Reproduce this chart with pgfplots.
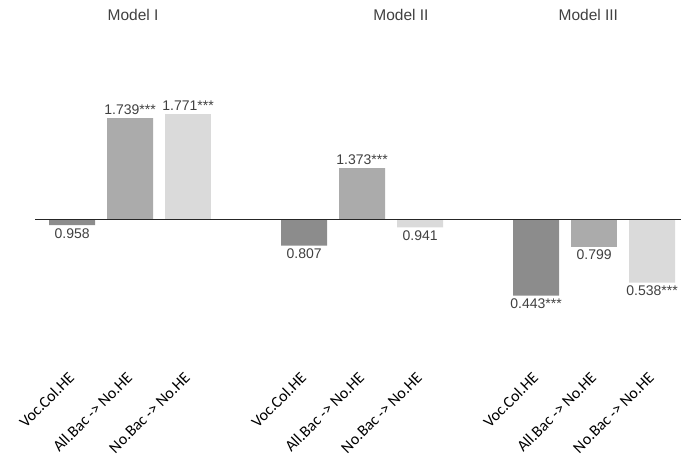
\documentclass[border=0pt]{standalone}
\usepackage{pgfplots}
\pgfplotsset{compat=1.18}
\usepackage{fontspec}
\setmainfont{Liberation Sans}
\newfontfamily\calibri{Carlito}
\definecolor{cdark}{HTML}{8C8C8C}
\definecolor{cmed}{HTML}{ABABAB}
\definecolor{clight}{HTML}{DADADA}
\definecolor{ctext}{HTML}{404040}
\begin{document}
\begin{tikzpicture}[x=1pt,y=1pt]
\begin{axis}[
  at={(35pt,94pt)}, anchor=south west,
  scale only axis,
  x=58pt, y=137pt,
  xmin=-0.64, xmax=10.5,
  ymin=-1.10, ymax=1.55,
  axis line style={draw=none},
  tick style={draw=none},
  ytick=\empty,
  xtick={0,1,2,4,5,6,8,9,10},
  xticklabels={Voc.Col.HE, All.Bac -> No.HE, No.Bac -> No.HE,
               Voc.Col.HE, All.Bac -> No.HE, No.Bac -> No.HE,
               Voc.Col.HE, All.Bac -> No.HE, No.Bac -> No.HE},
  xticklabel style={rotate=45, anchor=east, font=\calibri\fontsize{16}{18}\selectfont, text=black, inner sep=1pt},
  clip=false,
  ybar, bar width=46pt, bar shift=0pt,
  nodes near coords,
  point meta=explicit symbolic,
  nodes near coords style={font=\fontsize{14}{16}\selectfont, text=ctext, inner sep=3pt},
  pos/.style={nodes near coords style={anchor=south}},
  neg/.style={nodes near coords style={anchor=north}},
]
% Voc.Col.HE (all below 1)
\addplot[fill=cdark, draw=none, neg] table[x=x, y expr=\thisrow{v}-1, meta=lab] {
x v lab
0 0.958 0.958
4 0.807 0.807
8 0.443 0.443***
};
% All.Bac -> No.HE
\addplot[fill=cmed, draw=none, pos] table[x=x, y expr=\thisrow{v}-1, meta=lab] {
x v lab
1 1.739 1.739***
5 1.373 1.373***
};
\addplot[fill=cmed, draw=none, neg] table[x=x, y expr=\thisrow{v}-1, meta=lab] {
x v lab
9 0.799 0.799
};
% No.Bac -> No.HE
\addplot[fill=clight, draw=none, pos] table[x=x, y expr=\thisrow{v}-1, meta=lab] {
x v lab
2 1.771 1.771***
};
\addplot[fill=clight, draw=none, neg] table[x=x, y expr=\thisrow{v}-1, meta=lab] {
x v lab
6 0.941 0.941
10 0.538 0.538***
};
\draw[line width=1.5pt, color=black!85] (axis cs:-0.64,0) -- (axis cs:10.5,0);
\node[font=\fontsize{15.5}{17}\selectfont, text=ctext] at (axis cs:1.05,1.49) {Model I};
\node[font=\fontsize{15.5}{17}\selectfont, text=ctext] at (axis cs:5.67,1.49) {Model II};
\node[font=\fontsize{15.5}{17}\selectfont, text=ctext] at (axis cs:8.9,1.49) {Model III};
\end{axis}
\pgfresetboundingbox
\path (0pt,0pt) rectangle (681pt,464pt);
\end{tikzpicture}
\end{document}
